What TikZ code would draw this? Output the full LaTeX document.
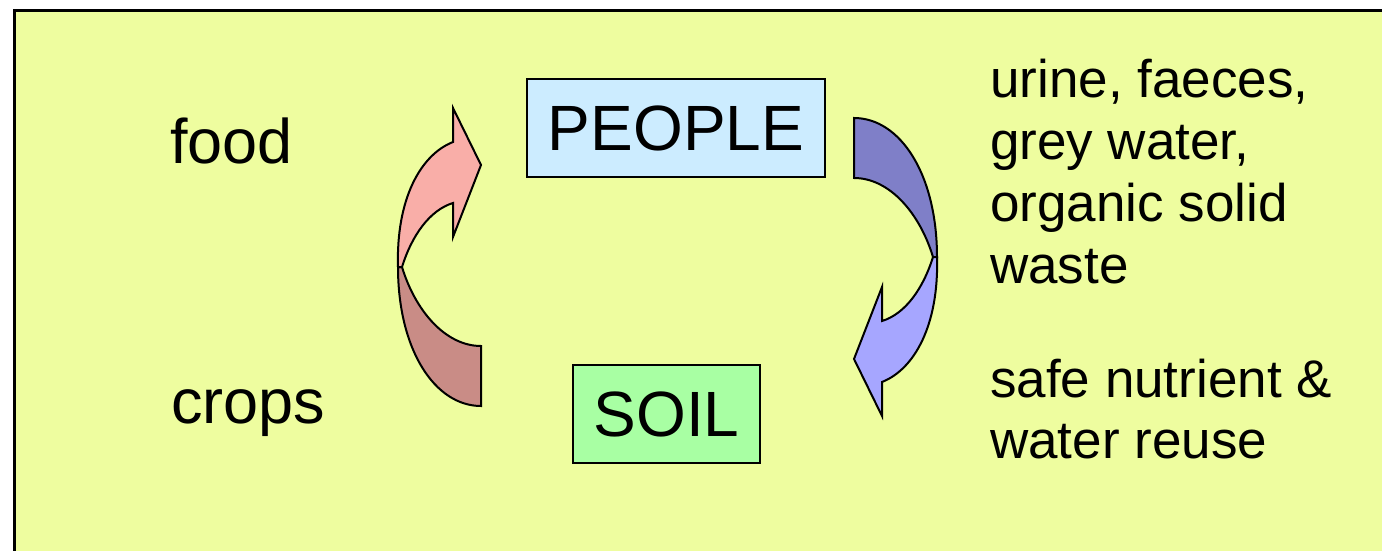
\documentclass[tikz,border=0pt]{standalone}
\usepackage{fontspec}
\setmainfont{Liberation Sans}
\definecolor{panelbg}{HTML}{EEFD9F}
\definecolor{peoplefill}{HTML}{CCECFF}
\definecolor{soilfill}{HTML}{A8FFA3}
\definecolor{pinkhead}{HTML}{F9AEA8}
\definecolor{pinktail}{HTML}{C98C86}
\definecolor{bluehead}{HTML}{A6A6FF}
\definecolor{bluetail}{HTML}{7F7FC8}

% curved arrow made of a tail band (#2) and a head band (#1)
\newcommand\cyclearrow[2]{%
  \filldraw[fill=#2, arrowline]
    (481,-346) .. controls (445,-346) and (415,-310) .. (402,-267)
    -- (398,-267) .. controls (398,-350) and (435,-406) .. (481,-406)
    -- cycle;
  \filldraw[fill=#1, arrowline]
    (402,-267) .. controls (412,-235) and (430,-210) .. (453,-203)
    -- (453,-237) -- (481,-165) -- (453,-108) -- (453,-142)
    .. controls (420,-155) and (396,-200) .. (398,-267)
    -- cycle;
}

\begin{document}
\begin{tikzpicture}[x=1pt,y=1pt,
  arrowline/.style={draw=black, line width=2pt, line join=miter},
  boxnode/.style={draw=black, line width=2pt, inner sep=0pt,
    font=\fontsize{64}{64}\selectfont},
  lbl/.style={anchor=base west, inner sep=0pt, font=\fontsize{63}{63}\selectfont},
  rlbl/.style={anchor=base west, inner sep=0pt, font=\fontsize{53}{53}\selectfont}]
  \useasboundingbox (0,0) rectangle (1382,-551);
  \clip (0,0) rectangle (1382,-551);
  \fill[white] (0,0) rectangle (1382,-551);
  % panel
  \filldraw[fill=panelbg, draw=black, line width=3pt] (14,-11) rectangle (1420,-600);

  % boxes
  \node[boxnode, fill=peoplefill, minimum width=298pt, minimum height=98pt]
    (people) at (676,-128) {PEOPLE};
  \node[boxnode, fill=soilfill, minimum width=187pt, minimum height=98pt]
    (soil) at (666.5,-414) {SOIL};

  % cycle arrows
  \cyclearrow{pinkhead}{pinktail}
  \begin{scope}[rotate around={180:(667.5,-262)}]
    \cyclearrow{bluehead}{bluetail}
  \end{scope}

  % left labels
  \node[lbl] (food) at (170,-163) {food};
  \node[lbl] (crops) at (171,-423) {crops};

  % right labels
  \node[rlbl] (out1) at (990,-97) {urine, faeces,};
  \node[rlbl] (out2) at (990,-159) {grey water,};
  \node[rlbl] (out3) at (990,-221) {organic solid};
  \node[rlbl] (out4) at (990,-283) {waste};
  \node[rlbl] (reuse1) at (990,-397) {safe nutrient \&};
  \node[rlbl] (reuse2) at (990,-458) {water reuse};
\end{tikzpicture}
\end{document}
